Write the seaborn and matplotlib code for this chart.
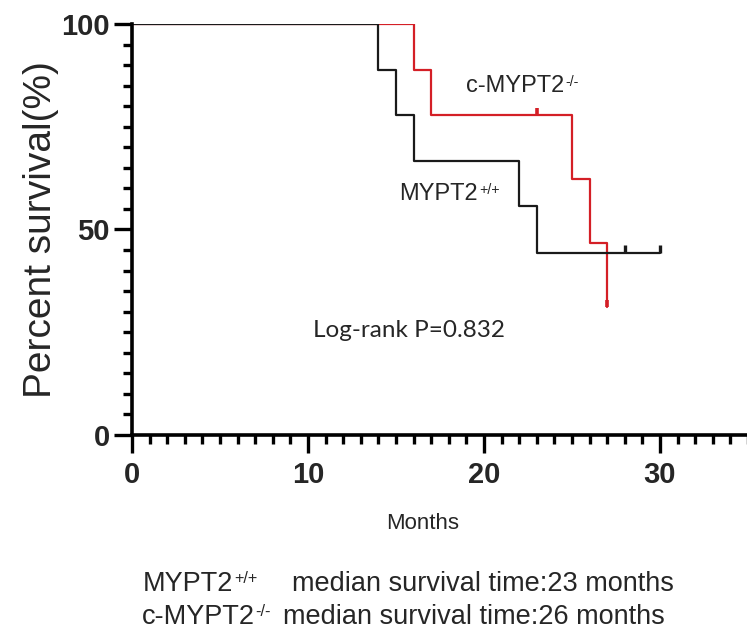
import seaborn as sns
import matplotlib.pyplot as plt
import pandas as pd

# Kaplan-Meier steps
wt_months = [0, 14, 15, 16, 22, 23, 30]
wt_surv = [100, 88.9, 77.8, 66.7, 55.6, 44.4, 44.4]
wt_cens_months = [28, 30]
wt_cens_surv = [44.4, 44.4]

ko_months = [0, 16, 17, 25, 26, 27]
ko_surv = [100, 88.9, 77.8, 62.2, 46.7, 31.1]
ko_cens_months = [23, 27]
ko_cens_surv = [77.8, 31.1]

wt_name, wt_sup = "MYPT2", "+/+"
ko_name, ko_sup = "c-MYPT2", "-/-"
medians = ["median survival time:23 months", "median survival time:26 months"]
pval_text = "Log-rank P=0.832"

sns.set_style("ticks")
plt.rcParams['font.family'] = ['Liberation Sans', 'DejaVu Sans']

W, H = 747, 632
fig = plt.figure(figsize=(W / 100, H / 100), dpi=100)
ax = fig.add_axes([132 / W, 1 - 435 / H, 616 / W, (435 - 24) / H])

black = "#1a1a1a"
red = "#d41f26"

wt = pd.DataFrame({"months": wt_months, "surv": wt_surv})
ko = pd.DataFrame({"months": ko_months, "surv": ko_surv})
# red first so the shared 100% stretch shows black, as in the original
sns.lineplot(data=ko, x="months", y="surv", drawstyle="steps-post",
             color=red, lw=1.6, estimator=None, sort=False, ax=ax)
sns.lineplot(data=wt, x="months", y="surv", drawstyle="steps-post",
             color=black, lw=1.6, estimator=None, sort=False, ax=ax)

# censor marks
ax.plot(wt_cens_months, wt_cens_surv, ls="none", marker=2, ms=6, mew=2.4, color=black)
ax.plot(ko_cens_months, ko_cens_surv, ls="none", marker=2, ms=5, mew=2.6, color=red)

ax.set_xlim(0, 35)
ax.set_ylim(0, 100)
ax.set_xticks([0, 10, 20, 30])
ax.set_xticks(range(0, 36), minor=True)
ax.set_yticks([0, 50, 100])
ax.set_yticks(range(0, 101, 5), minor=True)

for s in ["top", "right"]:
    ax.spines[s].set_visible(False)
for s in ["left", "bottom"]:
    ax.spines[s].set_linewidth(2.6)
    ax.spines[s].set_color("black")

ax.tick_params(which="major", length=13, width=2.4, color="black", labelsize=21)
ax.tick_params(which="minor", length=6.5, width=2.4, color="black")
ax.tick_params(axis="x", which="major", pad=6)
ax.tick_params(axis="y", which="major", pad=3)
for lab in ax.get_xticklabels() + ax.get_yticklabels():
    lab.set_fontweight("bold")

ax.set_xlabel("Months", fontsize=16)
ax.xaxis.set_label_coords(0.471, -0.19)
ax.set_ylabel("Percent survival(%)", fontsize=28)
ax.yaxis.set_label_coords(-0.148, 0.5)
ax.yaxis.label.set_va("center")


def label_with_sup(x, y, base, sup, size, coords):
    t = ax.annotate(base, (x, y), xycoords=coords, fontsize=size, va="baseline")
    ax.annotate(sup, (1, 1), xycoords=t, xytext=(0.5, 0), textcoords="offset points",
                fontsize=size * 0.6, va="top")
    return t


label_with_sup(19.0, 83.5, ko_name, ko_sup, 17, "data")
label_with_sup(15.2, 57.2, wt_name, wt_sup, 17, "data")
ax.text(10.3, 23.8, pval_text, fontsize=17.5, va="baseline",
        family=["Lato", "DejaVu Sans"])

label_with_sup(143 / W, 1 - 591 / H, wt_name, wt_sup, 19.5, "figure fraction")
fig.text(292 / W, 1 - 591 / H, medians[0], fontsize=19.5, va="baseline")
label_with_sup(142 / W, 1 - 624 / H, ko_name, ko_sup, 19.5, "figure fraction")
fig.text(283 / W, 1 - 624 / H, medians[1], fontsize=19.5, va="baseline")

fig.savefig("out.png", dpi=100)
